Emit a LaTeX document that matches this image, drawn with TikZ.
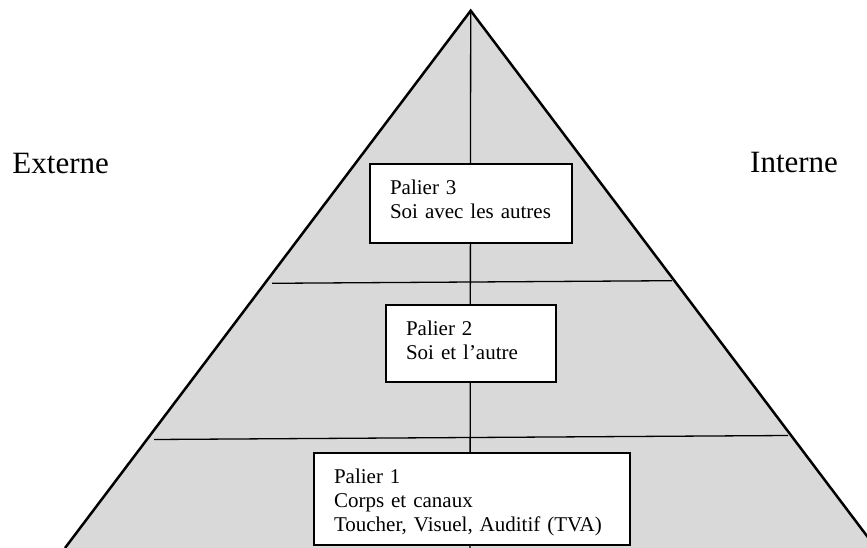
\documentclass[tikz,border=0pt]{standalone}
\usepackage{fontspec}
\setmainfont{Liberation Serif}
\definecolor{pyrgray}{HTML}{D9D9D9}
\begin{document}
\begin{tikzpicture}[x=1pt,y=-1pt,
  palier/.style={draw, line width=2.2pt, fill=white, align=left, inner xsep=20pt, inner ysep=0pt,
    font=\fontsize{21}{24}\selectfont, text height=15pt},
  side/.style={anchor=base west, inner sep=0pt, font=\fontsize{31}{36}\selectfont},
  divider/.style={line width=1.3pt}]
\useasboundingbox (0,0) rectangle (867,548);
\clip (0,0) rectangle (867,548);
\coordinate (apex) at (470.7,10.7);
\coordinate (bl) at (65,548);
\coordinate (br) at (876,548);
\coordinate (bot) at (470,548);
\coordinate (l2a) at (272,283.3);
\coordinate (l2b) at (672,280.7);
\coordinate (l1a) at (154,439.5);
\coordinate (l1b) at (788,435.5);
\fill[pyrgray] (bl) -- (apex) -- (br) -- cycle;
\draw[line width=2.5pt, line join=miter] (bl) -- (apex) -- (br);
\draw[divider] (apex) -- (bot);
\draw[divider] (l2a) -- (l2b);
\draw[divider] (l1a) -- (l1b);
\node[palier, text width=162pt, minimum width=202pt, minimum height=79pt, text depth=32pt] (b3) at (471,203.5)
  {Palier 3\\Soi avec les autres};
\node[palier, text width=130pt, minimum width=170pt, minimum height=77pt, text depth=32pt] (b2) at (471,343.5)
  {Palier 2\\Soi et l’autre};
\node[palier, text width=276pt, minimum width=316pt, minimum height=92pt, text depth=46.4pt] (b1) at (472,499)
  {Palier 1\\Corps et canaux\\Toucher, Visuel, Auditif (TVA)};
\node[side] (ext) at (12.3,174) {Externe};
\node[side] (int) at (750,173) {Interne};
\end{tikzpicture}
\end{document}
